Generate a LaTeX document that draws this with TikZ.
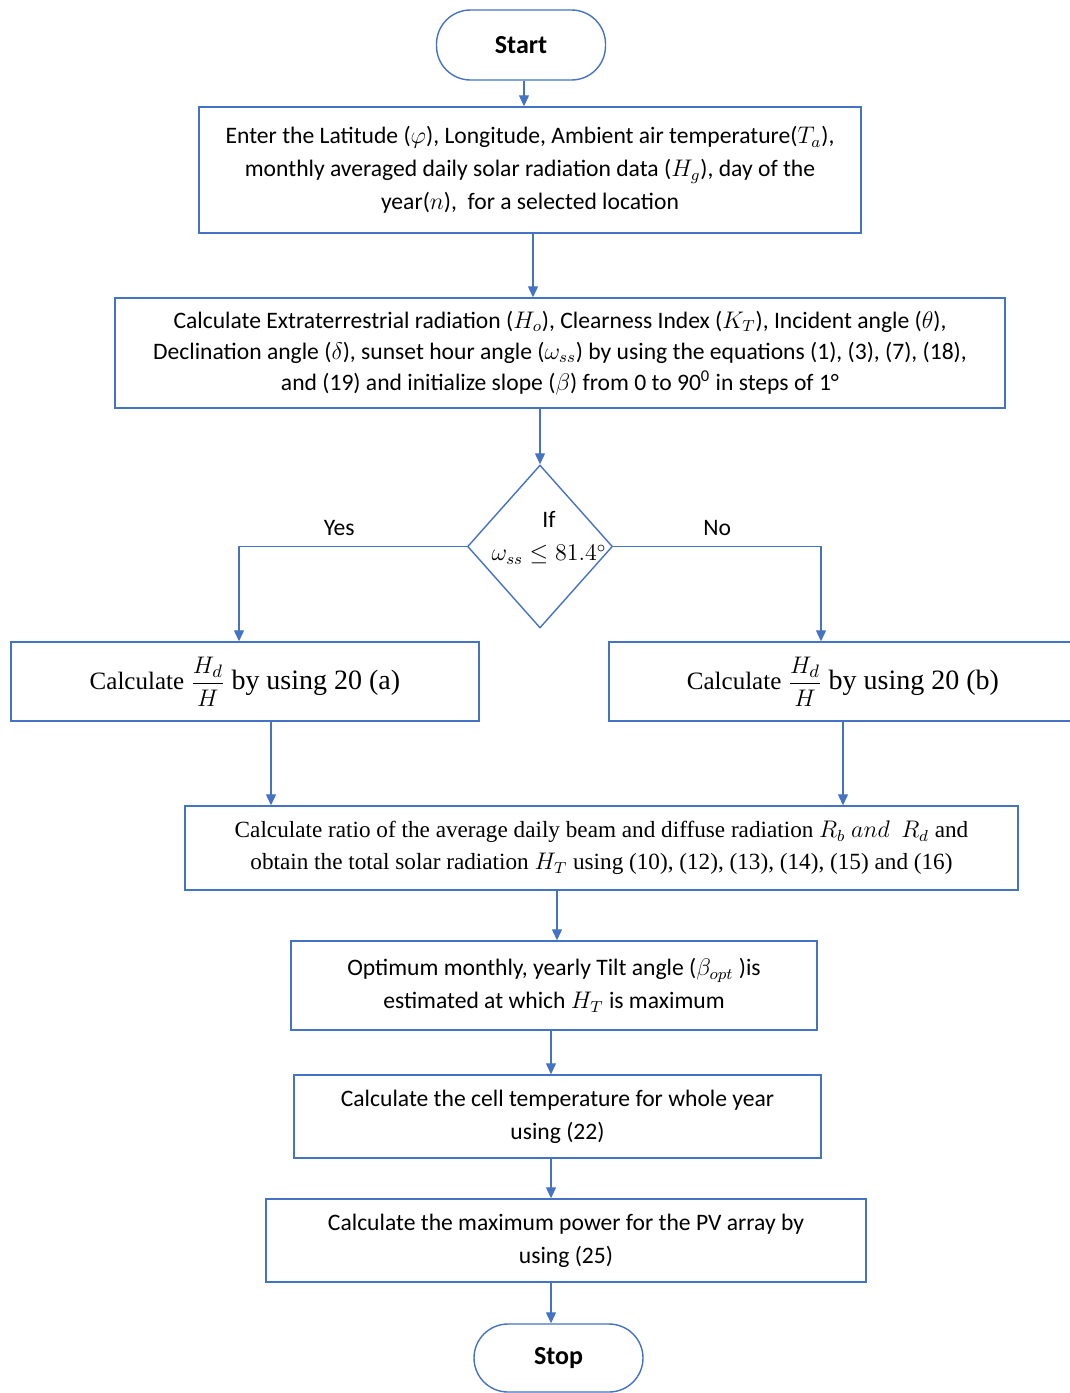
\documentclass[tikz,border=0pt]{standalone}
\usepackage{amsmath}
\usepackage{fontspec}
\setmainfont{Carlito}
\newfontfamily\serifbox{Liberation Serif}
\usetikzlibrary{shapes.geometric, arrows.meta}
\definecolor{flowblue}{HTML}{4472C4}

\begin{document}
\begin{tikzpicture}[x=0.5pt, y=-0.5pt,
		t/.style = {rectangle, rounded corners=17pt, draw=flowblue, line width=0.7pt, minimum width=84.5pt, minimum height=35pt, font=\fontsize{13}{15}\selectfont\bfseries},
		p/.style = {rectangle, draw=flowblue, line width=0.7pt, align=center, inner sep=0pt, font=\fontsize{11.8}{16.5}\selectfont},
		ps/.style = {p, font=\fontsize{11.8}{15.5}\selectfont},
		q/.style = {p, font=\serifbox\fontsize{12.5}{16}\selectfont},
		qs/.style = {p, font=\serifbox\fontsize{11.6}{16}\selectfont},
		d/.style = {diamond, draw=flowblue, line width=0.7pt, minimum width=72.5pt, minimum height=81.5pt, inner sep=0pt},
		lbl/.style = {above=2pt, font=\fontsize{11.8}{14}\selectfont},
		r/.style = {-{Triangle[width=5pt, length=5.5pt]}, draw=flowblue, line width=0.6pt}
		]
		\useasboundingbox (0,0) rectangle (1070,1393);
		
		% === === Nodes === ===
		\node[t]	(start)	at	(521, 45)		{Start};
		\node[p, minimum width=331pt, minimum height=63pt]	(input)	at	(530, 170)
			{Enter the Latitude ($\varphi$), Longitude, Ambient air temperature($T_a$),\\
			 monthly averaged daily solar radiation data ($H_g$), day of the\\
			 year($n$),\ \ for a selected location};
		\node[ps, minimum width=445pt, minimum height=55pt]	(calc)	at	(560, 353)
			{Calculate Extraterrestrial radiation ($H_o$), Clearness Index ($K_T$), Incident angle ($\theta$),\\
			 Declination angle ($\delta$), sunset hour angle ($\omega_{ss}$) by using the equations (1), (3), (7), (18),\\
			 and (19) and initialize slope ($\beta$) from 0 to 90\textsuperscript{0} in steps of 1°};
		\node[d]	(cond)	at	(540, 546.5)	{};
		\node[align=center, font=\fontsize{11.8}{16.5}\selectfont]	(cond-t)	at	(549, 538)
			{If\\ $\omega_{ss} \le 81.4^{\circ}$};
		
		\node[q, minimum width=234pt, minimum height=39.5pt]	(yes-b)	at	(245, 681.5)
			{Calculate $\dfrac{H_d}{H}$ {\fontsize{14}{16}\selectfont by using 20 (a)}};
		\node[q, minimum width=234pt, minimum height=39.5pt]	(no-b)	at	(843, 681.5)
			{Calculate $\dfrac{H_d}{H}$ {\fontsize{14}{16}\selectfont by using 20 (b)}};
		
		\node[qs, minimum width=416.5pt, minimum height=42pt]	(ratio)	at	(601.5, 848)
			{Calculate ratio of the average daily beam and diffuse radiation $R_b$ $and$\ \ $R_d$ and\\
			 obtain the total solar radiation $H_T$ using (10), (12), (13), (14), (15) and (16)};
		\node[p, minimum width=263pt, minimum height=44.5pt]	(tilt)	at	(554, 985.5)
			{Optimum monthly, yearly Tilt angle ($\beta_{opt}$\ )is\\
			 estimated at which $H_T$ is maximum};
		\node[p, minimum width=263.5pt, minimum height=41.5pt]	(cell)	at	(557.5, 1116.5)
			{Calculate the cell temperature for whole year\\ using (22)};
		\node[p, minimum width=300pt, minimum height=41.5pt]	(power)	at	(566, 1240.5)
			{Calculate the maximum power for the PV array by\\ using (25)};
		\node[t, minimum height=34pt]	(stop)	at	(558.5, 1358)	{Stop};
		
		% === === Lines === ===
		\draw[r]	([xshift=1.5pt]start.south)	--	([xshift=1.5pt]start.south |- input.north);
		\draw[r]	([xshift=1.5pt]input.south)	--	([xshift=1.5pt]input.south |- calc.north);
		\draw[r]	(cond.north |- calc.south)	--	(cond.north);
		\draw[r]	(cond.west)	-|	node[pos=0.28, lbl]	{Yes}	([xshift=-3pt]yes-b.north);
		\draw[r]	(cond.east)	-|	node[pos=0.25, lbl]	{No}	([xshift=-11pt]no-b.north);
		\draw[r]	([xshift=13pt]yes-b.south)	--	([xshift=13pt]yes-b.south |- ratio.north);
		\draw[r]	(no-b.south)	--	(no-b.south |- ratio.north);
		\draw[r]	([xshift=1.5pt]tilt.north |- ratio.south)	--	([xshift=1.5pt]tilt.north);
		\draw[r]	([xshift=-1.5pt]tilt.south)	--	([xshift=-1.5pt]tilt.south |- cell.north);
		\draw[r]	([xshift=-3.25pt]cell.south)	--	([xshift=-3.25pt]cell.south |- power.north);
		\draw[r]	([xshift=-7.5pt]power.south)	--	([xshift=-7.5pt]power.south |- stop.north);
		
\end{tikzpicture}
\end{document}
